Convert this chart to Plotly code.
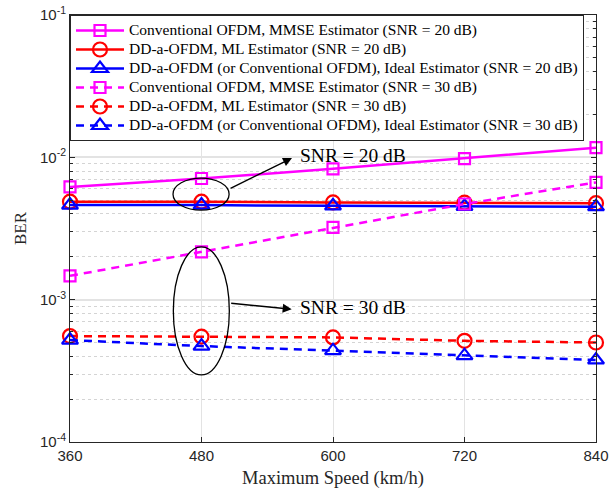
import plotly.graph_objects as go

speeds = [360, 480, 600, 720, 840]
mmse_20 = [6.2e-3, 7.1e-3, 8.3e-3, 9.8e-3, 1.17e-2]
ml_20 = [4.88e-3, 4.88e-3, 4.82e-3, 4.8e-3, 4.76e-3]
ideal_20 = [4.62e-3, 4.62e-3, 4.56e-3, 4.52e-3, 4.5e-3]
mmse_30 = [1.47e-3, 2.17e-3, 3.22e-3, 4.7e-3, 6.67e-3]
ml_30 = [5.55e-4, 5.5e-4, 5.43e-4, 5.14e-4, 5.0e-4]
ideal_30 = [5.2e-4, 4.72e-4, 4.38e-4, 4.04e-4, 3.77e-4]

names = [
    "Conventional OFDM, MMSE Estimator (SNR = 20 dB)",
    "DD-a-OFDM, ML Estimator (SNR = 20 dB)",
    "DD-a-OFDM (or Conventional OFDM), Ideal Estimator (SNR = 20 dB)",
    "Conventional OFDM, MMSE Estimator (SNR = 30 dB)",
    "DD-a-OFDM, ML Estimator (SNR = 30 dB)",
    "DD-a-OFDM (or Conventional OFDM), Ideal Estimator (SNR = 30 dB)",
]
series = [mmse_20, ml_20, ideal_20, mmse_30, ml_30, ideal_30]
colors = ["#FF00FF", "#FF0000", "#0000FF"] * 2
symbols = ["square-open", "circle-open", "triangle-up-open"] * 2
sizes = [11, 14, 14] * 2
dashes = ["solid"] * 3 + ["8px,6px"] * 3

fig = go.Figure()
for n, s, c, sym, sz, d in zip(names, series, colors, symbols, sizes, dashes):
    fig.add_trace(go.Scatter(
        x=speeds, y=s, name='<span style="font-size:15.5px">' + n + '</span>',
        mode="lines+markers",
        line=dict(color=c, width=2.5, dash=d),
        marker=dict(symbol=sym, size=sz, color=c, line=dict(color=c, width=2.2)),
        cliponaxis=False,
    ))

serif = "Liberation Serif"
sans = "Liberation Sans"

# Ellipses (x in data units, y in paper units)
fig.add_shape(type="circle", xref="x", yref="paper", x0=454.0, x1=505.2, y0=0.543, y1=0.618,
              line=dict(color="black", width=1.3))
fig.add_shape(type="circle", xref="x", yref="paper", x0=454.3, x1=505.4, y0=0.157, y1=0.457,
              line=dict(color="black", width=1.3))

# Arrows
fig.add_annotation(x=562.6, y=0.665, xref="x", yref="paper", ax=-63, ay=31, text="",
                   showarrow=True, arrowhead=2, arrowsize=1.2, arrowwidth=1.5, arrowcolor="black")
fig.add_annotation(x=562.3, y=0.311, xref="x", yref="paper", ax=-62, ay=-6, text="",
                   showarrow=True, arrowhead=2, arrowsize=1.2, arrowwidth=1.5, arrowcolor="black")
fig.add_annotation(x=568.1, y=0.670, xref="x", yref="paper", text="SNR = 20 dB", showarrow=False,
                   xanchor="left", yanchor="middle", font=dict(family=serif, size=19.5, color="black"))
fig.add_annotation(x=568.3, y=0.315, xref="x", yref="paper", text="SNR = 30 dB", showarrow=False,
                   xanchor="left", yanchor="middle", font=dict(family=serif, size=19.5, color="black"))

minor_vals = [m * 10 ** e for e in (-4, -3, -2) for m in range(2, 10)]

fig.update_layout(
    width=609, height=489,
    margin=dict(l=70, r=13, t=15, b=47, autoexpand=False),
    plot_bgcolor="white", paper_bgcolor="white",
    showlegend=True,
    legend=dict(x=0.0, y=1.0, xanchor="left", yanchor="top",
                bgcolor="white", bordercolor="#262626", borderwidth=1,
                font=dict(family=serif, size=11, color="black"),
                itemwidth=48, tracegroupgap=0),
)
fig.update_xaxes(
    range=[360, 840], tickvals=speeds, ticktext=[str(v) for v in speeds],
    automargin=False,
    showline=True, mirror="allticks", linecolor="#262626", linewidth=1,
    ticks="inside", ticklen=5, tickcolor="#262626",
    showgrid=True, gridcolor="#e3e3e3", gridwidth=1, zeroline=False,
    tickfont=dict(family=sans, size=15, color="#262626"),
    title=dict(text="Maximum Speed (km/h)", font=dict(family=serif, size=18.5, color="#262626"), standoff=11),
)
fig.update_yaxes(
    type="log", range=[-4, -1],
    automargin=False,
    tickvals=[1e-4, 1e-3, 1e-2, 1e-1],
    ticktext=["10<sup>-4</sup>", "10<sup>-3</sup>", "10<sup>-2</sup>", "10<sup>-1</sup>"],
    showline=True, mirror="allticks", linecolor="#262626", linewidth=1,
    ticks="inside", ticklen=5, tickcolor="#262626",
    showgrid=True, gridcolor="#e3e3e3", gridwidth=1.5, zeroline=False,
    minor=dict(tickmode="array", tickvals=minor_vals, showgrid=True, gridcolor="#d4d4d4",
               griddash="dot", gridwidth=1, ticks="inside", ticklen=3, tickcolor="#262626"),
    tickfont=dict(family=sans, size=15, color="#262626"),
    title=dict(text="BER", font=dict(family=serif, size=17, color="#262626"), standoff=9),
)

fig.write_html("out.html")
